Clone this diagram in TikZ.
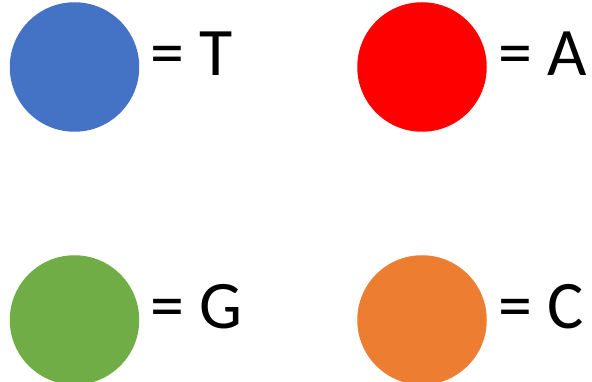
\documentclass[tikz,border=0pt]{standalone}
\usepackage{fontspec}
\setmainfont{Carlito}
\definecolor{cT}{HTML}{4472C4}
\definecolor{cA}{HTML}{FF0000}
\definecolor{cG}{HTML}{70AD47}
\definecolor{cC}{HTML}{ED7D31}
\begin{document}
\begin{tikzpicture}[x=1pt,y=-1pt,
  dot/.style={circle,inner sep=0pt,minimum size=129.5pt,draw=none},
  lbl/.style={anchor=base west,inner sep=0pt,font=\fontsize{68}{80}\selectfont}]
\useasboundingbox (0,0) rectangle (592,382);
\node[dot,fill=cT] (t) at (74.5,67) {};
\node[dot,fill=cA] (a) at (422,67) {};
\node[dot,fill=cG] (g) at (74.5,320) {};
\node[dot,fill=cC] (c) at (422,320) {};
\node[lbl] (lt) at (150,76) {= T};
\node[lbl] (la) at (498,76) {= A};
\node[lbl] (lg) at (150,328) {= G};
\node[lbl] (lc) at (498,328) {= C};
\end{tikzpicture}
\end{document}
